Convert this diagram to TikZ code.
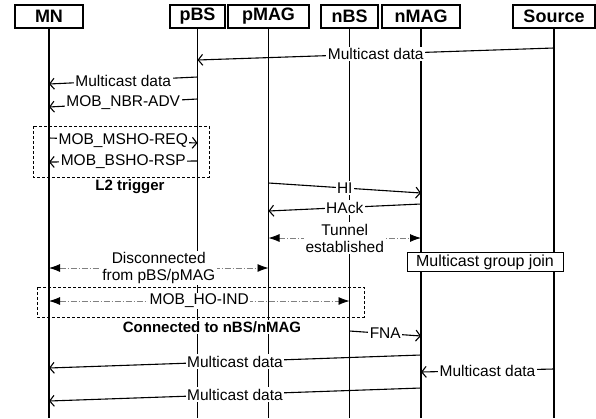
\documentclass[tikz,border=0pt]{standalone}
\usepackage{fontspec}
\setmainfont{Liberation Sans}
\usetikzlibrary{arrows.meta, calc}

\tikzset{
    head/.style={draw, line width=1.2pt, fill=white, minimum height=23pt, inner sep=0pt, font=\fontsize{18}{18}\selectfont\bfseries},
    lbl/.style={fill=white, text=black, inner sep=1.5pt, font=\fontsize{15.5}{17}\selectfont, align=center},
    note/.style={fill=white, inner sep=1pt, font=\fontsize{15}{16}\selectfont\bfseries},
    msg/.style={line width=1.1pt, -{Straight Barb[length=4.5pt,width=11pt]}},
    tunl/.style={gray, dash pattern=on 6pt off 2pt on 1pt off 2pt, line width=0.8pt, {Latex[color=black,length=11pt,width=8pt]}-{Latex[color=black,length=11pt,width=8pt]}},
    frame/.style={densely dashed, line width=1pt},
}

\begin{document}
\begin{tikzpicture}[x=1pt, y=-1pt]
            \useasboundingbox (0,0) rectangle (596,418);

            \foreach \n/\x/\w in {MN/49/68, pBS/197.5/55, pMAG/268.5/81, nBS/349.5/57, nMAG/421/78, Source/554/82} {
                \node[head, minimum width=\w pt] (\n) at (\x,16.5) {\n};
                \draw[line width=1.2pt] (\n.south) -- (\n |- 0,418);
            }

            \draw[msg] (Source |- 0,48) -- node[lbl] {Multicast data} (pBS |- 0,60);
            \draw[msg] (pBS |- 0,77) -- node[lbl] {Multicast data} (MN |- 0,84);
            \draw[msg] (pBS |- 0,99) -- node[lbl] {MOB\_NBR-ADV} (MN |- 0,107);

            \draw[frame] (33,126) rectangle (209,177);
            \draw[msg] (MN |- 0,138) -- node[lbl] {MOB\_MSHO-REQ} (pBS |- 0,143);
            \draw[msg] (pBS |- 0,161) -- node[lbl] {MOB\_BSHO-RSP} (MN |- 0,162);
            \node[note] (l2) at (130,187) {L2 trigger};

            \draw[msg] (pMAG |- 0,183) -- node[lbl] {HI} (nMAG |- 0,193);
            \draw[msg] (nMAG |- 0,204) -- node[lbl] {HAck} (pMAG |- 0,211);
            \draw[tunl] (pMAG |- 0,238) -- node[lbl] {Tunnel\\established} (nMAG |- 0,238);

            \node[draw, line width=1pt, fill=white, minimum width=156pt, minimum height=19pt, inner sep=0pt, font=\fontsize{16}{16}\selectfont] (join) at (485,262) {Multicast group join};

            \draw[tunl] (MN |- 0,268) -- node[lbl] {Disconnected\\from pBS/pMAG} (pMAG |- 0,268);

            \draw[frame] (37,287) rectangle (364,317);
            \draw[tunl] (MN |- 0,301) -- node[lbl] {MOB\_HO-IND} (nBS |- 0,301);
            \node[note] (conn) at (212,327) {Connected to nBS/nMAG};

            \draw[msg] (nBS |- 0,331) -- node[lbl] {FNA} (nMAG |- 0,336);
            \draw[msg] (nMAG |- 0,355) -- node[lbl] {Multicast data} (MN |- 0,368);
            \draw[msg] (Source |- 0,369) -- node[lbl] {Multicast data} (nMAG |- 0,372);
            \draw[msg] (nMAG |- 0,388) -- node[lbl] {Multicast data} (MN |- 0,401);

        \end{tikzpicture}
\end{document}
